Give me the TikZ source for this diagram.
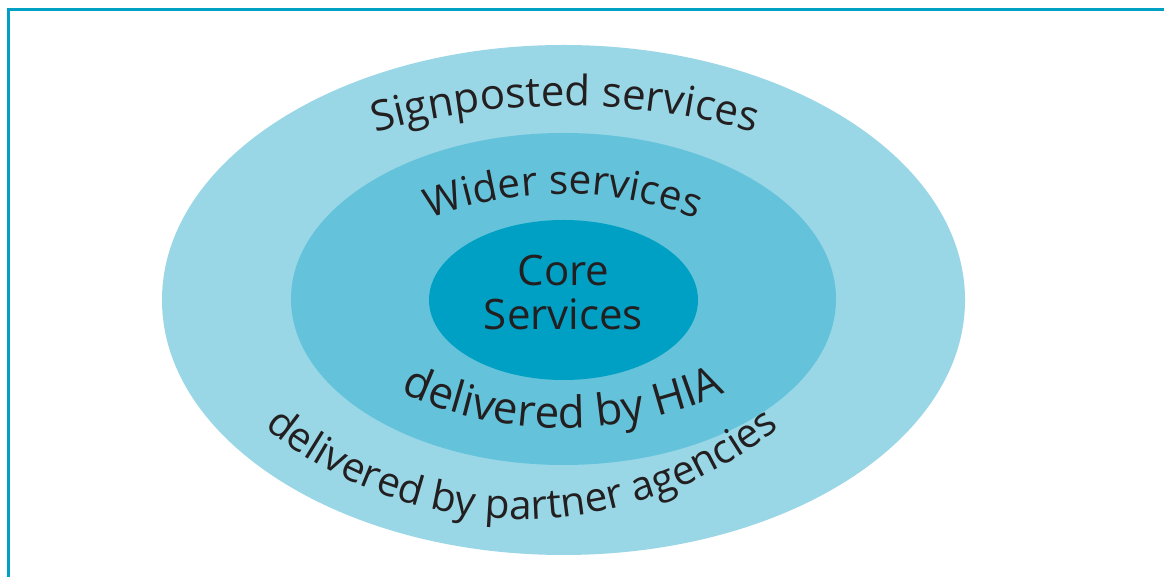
\documentclass[tikz,border=0pt]{standalone}
\usepackage{fontspec}
\setmainfont{Open Sans}
\usetikzlibrary{decorations.text}
\definecolor{framec}{HTML}{00A0C4}
\definecolor{outerc}{HTML}{99D7E6}
\definecolor{midc}{HTML}{64C3DB}
\definecolor{innerc}{HTML}{00A0C4}
\definecolor{txt}{HTML}{231F20}
\tikzset{
  arctext/.style={decorate, decoration={text along path, text align=center, text color=txt, text={#1}}},
  ring/.style={fill=#1, draw=none}
}
\begin{document}
\begin{tikzpicture}[x=1pt,y=1pt]
\useasboundingbox (0,0) rectangle (1164,577);
\clip (0,0) rectangle (1164,577);
\fill[white] (0,0) rectangle (1164,577);
\draw[framec, line width=3pt] (8.5,-20) -- (8.5,567.5) -- (1190,567.5);
% rings
\fill[ring=outerc] (563.5,277) ellipse [x radius=401.5, y radius=255];
\fill[ring=midc] (563.5,278) ellipse [x radius=272.5, y radius=166];
\fill[ring=innerc] (563.5,277) ellipse [x radius=134.5, y radius=80];
% core label
\node[inner sep=0, align=center, text=txt, font=\fontsize{42}{44}\selectfont] (core) at (563.5,284.5) {Core\\Services};
% curved labels
\path[arctext={|\fontsize{42}{50}\selectfont|Signposted services}] (565,-226) ++(125:697) arc[start angle=125, end angle=55, radius=697];
\path[arctext={|\fontsize{40.5}{50}\selectfont|Wider services}] (563,9) ++(135:374) arc[start angle=135, end angle=45, radius=374];
\path[arctext={|\fontsize{44}{50}\selectfont|delivered by HIA}] (563,537) ++(225:388) arc[start angle=225, end angle=315, radius=388];
\path[arctext={|\fontsize{40.5}{50}\selectfont|delivered by partner agencies}] (522,465) ++(205:407) arc[start angle=205, end angle=335, radius=407];
\end{tikzpicture}
\end{document}
